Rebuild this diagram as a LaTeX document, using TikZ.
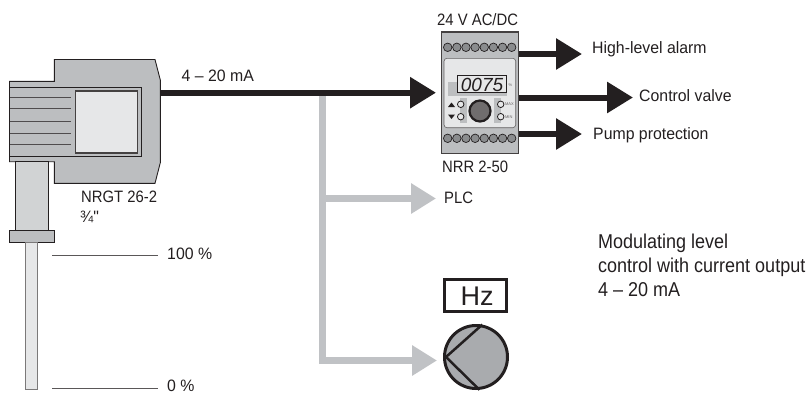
\documentclass[tikz,border=0pt]{standalone}
\usepackage{fontspec}
\setmainfont{Liberation Sans}
\newfontfamily\labelfont[FakeStretch=0.96]{Liberation Sans}
\newfontfamily\narrowfont[FakeStretch=0.90]{Liberation Sans}
\usepackage{xcolor}
\usetikzlibrary{calc, positioning, arrows.meta}
\definecolor{housegray}{HTML}{BCBEC0}
\definecolor{pipegray}{HTML}{C0C2C5}
\definecolor{stemgray}{HTML}{D1D3D4}
\definecolor{lightface}{HTML}{E6E7E8}
\definecolor{pumpgray}{HTML}{A9ABAE}
\definecolor{termgray}{HTML}{8A8C8E}
\definecolor{inkblack}{HTML}{231F20}

\begin{document}
\begin{tikzpicture}[x=1pt, y=-1pt,
  lbl/.style={inner sep=0pt, anchor=base west, font=\labelfont\fontsize{16.5}{20}\selectfont, text=inkblack},
  devlbl/.style={lbl, font=\narrowfont\fontsize{16.5}{20}\selectfont},
  sig/.style={draw=inkblack, line width=6pt, -{Triangle[length=26pt, width=30pt]}},
  sigthin/.style={draw=pipegray, line width=6.5pt, -{Triangle[length=25pt, width=29pt]}},
  edge/.style={draw=inkblack, line width=.9pt},
  rib/.style={draw=inkblack!80, line width=.9pt},
  lvl/.style={draw=inkblack!75, line width=.7pt},
  term/.style={draw=inkblack, fill=termgray, circle, line width=.7pt, minimum size=8.5pt, inner sep=0pt},
  led/.style={draw=inkblack, fill=lightface, circle, line width=.8pt, minimum size=6.5pt, inner sep=0pt},
  tiny/.style={inner sep=0pt, font=\fontsize{4}{4}\selectfont, text=inkblack!70}]
\useasboundingbox (0,0) rectangle (808,394);
% sensor
\draw[edge, fill=housegray] (54.3,59.5) -- (155,59.5) -- (160.3,80) -- (160.3,162.7) -- (155,183.3) -- (54.3,183.3) -- (54.3,161.7) -- (9.5,161.7) -- (9.5,81.3) -- (54.3,81.3) -- cycle;
\draw[edge] (9.5,87.3) -- (141.7,87.3) -- (141.7,156.7) -- (9.5,156.7);
\node[draw=inkblack!85, fill=lightface, line width=1.2pt, minimum width=62pt, minimum height=62pt, inner sep=0pt] (window) at (106.5,122) {};
\foreach \y in {97.3,108.3,121,133.7,144.7} \draw[rib] (9.5,\y) -- (71,\y);
\draw[edge, fill=stemgray] (15,161.7) rectangle (48.3,230.7);
\draw[edge, fill=housegray] (9.5,230.7) rectangle (54.3,242.3);
\draw[edge, draw=inkblack!60, fill=lightface] (25.7,242.3) rectangle (37,389);
\node[lbl, devlbl] (nrgt) at (81,202) {NRGT 26-2};
\node[lbl] (thread) at (80,222.7) {¾"};
% levels
\node[lbl] (full) at (167,259.3) {100 \%};
\node[lbl] (empty) at (167,391.8) {0 \%};
\coordinate (hi) at (52,255.7);
\coordinate (lo) at (52,388.7);
\draw[lvl] (hi) -- (158.3,255.7);
\draw[lvl] (lo) -- (158.3,388.7);
% branches
\coordinate (start) at (160.3,92.7);
\coordinate (tee) at (322.5,92.7);
\coordinate (inlet) at (436,92.7);
\coordinate (plcin) at (436,198.5);
\coordinate (pumpin) at (437,360.5);
\node[lbl] (ma) at (181.5,81.7) {4 – 20 mA};
\node[lbl, devlbl] (plc) at (444,203) {PLC};
\draw[sigthin] (tee) |- (plcin);
\draw[sigthin] (tee) |- (pumpin);
\draw[sig] (start) -- (inlet);
% controller
\draw[edge, draw=inkblack!85, line width=1.2pt, fill=housegray] (441.5,32) rectangle (518.5,153.3);
\draw[line width=.6pt, draw=inkblack!70, fill=lightface, rounded corners=3pt] (444,58.3) rectangle (515.7,127.7);
\foreach \i in {0,...,7} {
  \node[term] (ta\i) at (447.7+\i*9.14,47.3) {};
  \node[term] (tb\i) at (447.7+\i*9.14,138.3) {};
}
\fill[housegray] (447.7,82.3) rectangle (507,95.5);
\draw[fill=lightface, draw=inkblack, line width=.9pt] (457.5,75.5) rectangle (506.5,92.7);
\node[inner sep=0pt, anchor=base, font=\fontsize{19}{19}\selectfont\itshape, text=inkblack] (display) at (482,91) {0075};
\node[tiny] (pct) at (510.5,85) {\%};
\fill[housegray] (460,98) rectangle (466.7,122.7);
\fill[housegray] (494,98) rectangle (500.7,122.7);
\node[circle, draw=inkblack, line width=2.2pt, fill=inkblack!65, minimum size=21pt, inner sep=0pt] (knob) at (480,111) {};
\node[led] (ledhi) at (460.7,104.3) {};
\node[led] (ledlo) at (460.7,116.7) {};
\node[led] (ledmax) at (500.7,104.3) {};
\node[led] (ledmin) at (500.7,116.7) {};
\node[tiny, right=.5pt of ledmax] (maxmark) {MAX};
\node[tiny, right=.5pt of ledmin] (minmark) {MIN};
\fill[inkblack] (448,107) -- (451.5,102.5) -- (455,107) -- cycle;
\fill[inkblack] (448,114.5) -- (455,114.5) -- (451.5,119) -- cycle;
\node[lbl, devlbl] (supply) at (437,25) {24 V AC/DC};
\node[lbl, devlbl] (nrr) at (442,172.7) {NRR 2-50};
% outputs
\node[lbl] (alarm) at (592,53.3) {High-level alarm};
\node[lbl] (valve) at (639,101) {Control valve};
\node[lbl] (pump) at (593,139) {Pump protection};
\coordinate (alarmout) at (582,54);
\coordinate (valveout) at (633,97.5);
\coordinate (pumpout) at (582,134);
\draw[sig] (alarmout -| 518.5,0) -- (alarmout);
\draw[sig] (valveout -| 518.5,0) -- (valveout);
\draw[sig] (pumpout -| 518.5,0) -- (pumpout);
% pump
\node[draw=inkblack, line width=3pt, minimum width=62pt, minimum height=32pt, inner sep=0pt] (freq) at (475.5,295.5) {};
\node[inner sep=0pt, anchor=base, font=\fontsize{27}{27}\selectfont, text=inkblack] (hz) at (477,305) {Hz};
\node[draw=inkblack, fill=pumpgray, circle, line width=3pt, minimum size=63pt, inner sep=0pt] (motor) at (476,357) {};
\coordinate (vertex) at (446,357);
\draw[inkblack, line width=2.5pt] (motor.79) -- (vertex) -- (motor.276);
% text
\node[lbl, align=left, font=\narrowfont\fontsize{20}{24}\selectfont, anchor=base west] (note) at (598,296) {Modulating level\\control with current output\\4 – 20 mA};
\end{tikzpicture}
\end{document}
